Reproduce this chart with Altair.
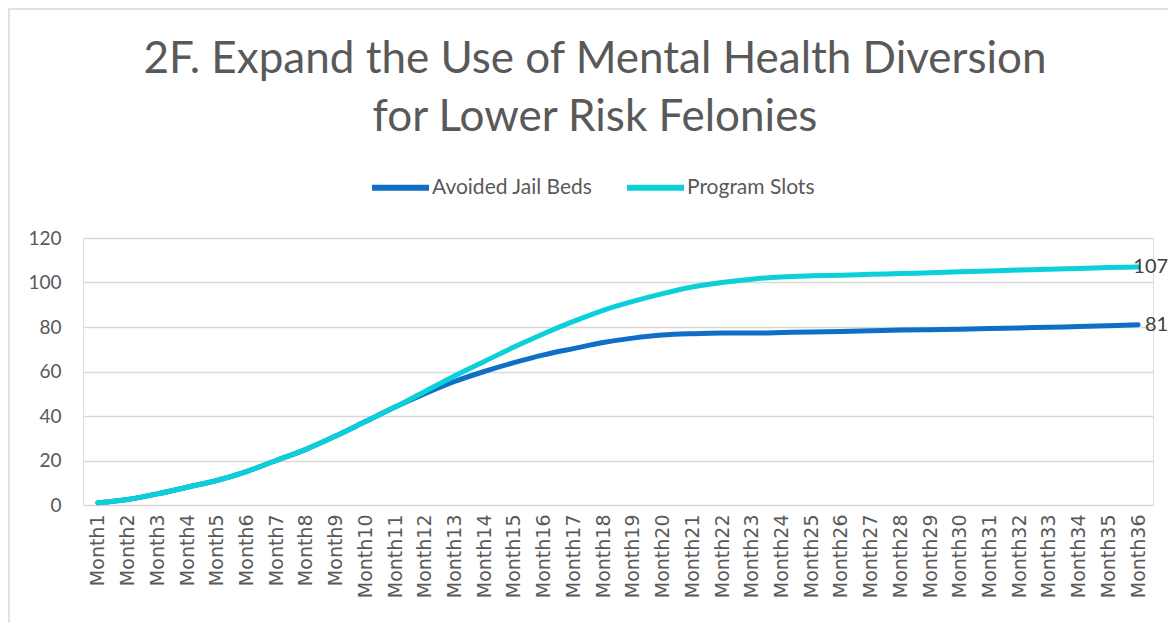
import altair as alt
import pandas as pd

months = [f"Month{i}" for i in range(1, 37)]
avoided_jail_beds = [1, 2.5, 5, 8, 11, 15, 20, 25, 31, 37.5, 44, 50, 55.5, 60, 64, 67.5,
                     70.3, 73, 75, 76.4, 77, 77.3, 77.3, 77.5, 77.8, 78, 78.3, 78.6, 78.8,
                     79, 79.3, 79.6, 79.9, 80.2, 80.6, 81]
program_slots = [1, 2.5, 5, 8, 11, 15, 20, 25, 31, 37.5, 44, 51, 58, 64.5, 71, 77,
                 82.5, 87.5, 91.5, 95, 98, 100, 101.5, 102.5, 103, 103.3, 103.7, 104,
                 104.4, 104.8, 105.2, 105.6, 106, 106.3, 106.7, 107]
series_names = ["Avoided Jail Beds", "Program Slots"]
series_colors = ["#0F6FC6", "#0BD0D9"]
title_lines = ["2F. Expand the Use of Mental Health Diversion", "for Lower Risk Felonies"]

rows = []
for m, a, p in zip(months, avoided_jail_beds, program_slots):
    rows.append({"month": m, "series": series_names[0], "value": a})
    rows.append({"month": m, "series": series_names[1], "value": p})
df = pd.DataFrame(rows)
last = df[df["month"] == months[-1]].copy()
last["label"] = last["value"].round(0).astype(int).astype(str)

FONT = "Lato"
GRAY = "#595959"
W, H = 1070, 267

x_enc = alt.X("month:N", sort=months, scale=alt.Scale(type="point", padding=0.5),
              axis=alt.Axis(title=None, labelAngle=-90, labelFontSize=19, labelColor=GRAY,
                            labelFont="DejaVu Sans", labelPadding=9, ticks=False, domain=False,
                            grid=False, labelAlign="right", labelBaseline="middle"))
y_enc = alt.Y("value:Q", scale=alt.Scale(domain=[0, 120], nice=False),
              axis=alt.Axis(title=None, values=[0, 20, 40, 60, 80, 100, 120],
                            labelFontSize=19, labelColor=GRAY, labelFont=FONT,
                            labelPadding=22, ticks=False, domain=False,
                            gridColor="#D9D9D9", gridWidth=1.5))
color_enc = alt.Color("series:N", scale=alt.Scale(domain=series_names, range=series_colors),
                      legend=alt.Legend(title=None, orient="none", direction="horizontal",
                                        legendX=286, legendY=-82, symbolType="stroke",
                                        symbolSize=3249, symbolStrokeWidth=6,
                                        labelFontSize=21, labelFont=FONT, labelColor=GRAY,
                                        labelLimit=400, columnPadding=22, labelOffset=0))

border = alt.Chart(pd.DataFrame({"b": [0]})).mark_rect(
    fill=None, stroke="#D9D9D9", strokeWidth=1.5
).encode(x=alt.value(-74), x2=alt.value(W + 60), y=alt.value(-229), y2=alt.value(H + 160))

title = alt.Chart(pd.DataFrame({"t": [0]})).mark_text(
    text=title_lines, fontSize=44, font=FONT, color=GRAY, align="center",
    baseline="top", lineHeight=58
).encode(x=alt.value(W / 2 - 23), y=alt.value(-200))

lines = alt.Chart(df).mark_line(strokeWidth=5, interpolate="monotone", strokeCap="round").encode(
    x=x_enc, y=y_enc, color=color_enc)

labels = alt.Chart(last).mark_text(align="right", baseline="middle", dx=30, fontSize=20,
                                   font=FONT, color="#404040").encode(
    x=alt.X("month:N", sort=months), y="value:Q", text="label:N")

chart = alt.layer(border, title, lines, labels).properties(
    width=W, height=H,
    autosize=alt.AutoSizeParams(type="none"),
    padding={"left": 75, "top": 230, "right": 15, "bottom": 118},
).configure_view(stroke=None).configure(background="white")

chart.save("out.html", embed_options={"renderer": "svg", "actions": False})
